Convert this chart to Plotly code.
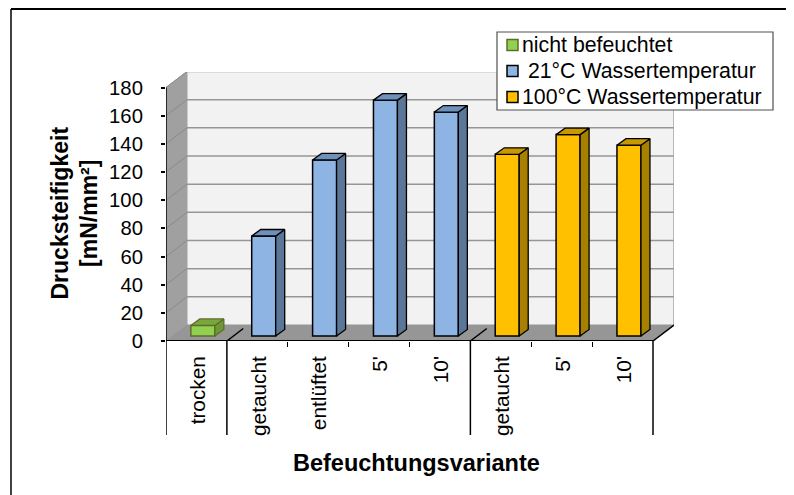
import plotly.graph_objects as go

categories = ["trocken", "getaucht", "entlüftet", "5'", "10'", "getaucht", "5'", "10'"]
values = [7.5, 71, 125, 167.5, 159, 129, 143, 135.5]
series_index = [0, 1, 1, 1, 1, 2, 2, 2]
series_names = ["nicht befeuchtet", "\u00a021°C Wassertemperatur", "100°C Wassertemperatur"]
x_title = "Befeuchtungsvariante"
y_title = "Drucksteifigkeit<br>[mN/mm²]"
front = ["#92D050", "#8DB4E2", "#FFC000"]
side = ["#6B9A33", "#5A7698", "#A88000"]
top = ["#78A83C", "#7090BC", "#C89800"]
edge = ["#5F6B2D", "#000000", "#000000"]
y_ticks = list(range(0, 181, 20))
group_edges = [0, 1, 5, 8]
minor_edges = [2, 3, 4, 6, 7]

OFF = 8                # the page body's default margin
W, H = 794 - OFF, 495 - OFF
PX, PR, PT, PB = 166, 674, 72, 341   # plot box in window pixels
cat_w = (653 - 166) / 8
u = (341 - 87.5) / 180
xr = (PR - PX) / cat_w
yr = (PB - PT) / u
wall_dx, wall_dy = 21 / cat_w, 16 / u
bar_dx, bar_dy = 9 / cat_w, 6.5 / u
shift, base = 6.4 / cat_w, 5 / u
bar_w = 24 / cat_w
label_shift = 1.5 / cat_w
AX = "#000000"

def px(v):
    return (v - PX) / (PR - PX)

def py(v):
    return (PB - v) / (PB - PT)

def poly(xs, ys, color, line=None, lw=1):
    path = "M" + "L".join(f"{a},{b}" for a, b in zip(xs, ys)) + "Z"
    return dict(type="path", path=path, xref="x", yref="y", layer="below", fillcolor=color,
                line=dict(color=line or color, width=lw))

def seg(x0, y0, x1, y1, color, w=1.5, layer="below"):
    return dict(type="line", xref="x", yref="y", x0=x0, y0=y0, x1=x1, y1=y1, layer=layer,
                line=dict(color=color, width=w))

shapes = [
    poly([wall_dx, xr, xr, wall_dx], [wall_dy, wall_dy, 180 + wall_dy, 180 + wall_dy], "#F2F2F2"),
    poly([0, wall_dx, wall_dx, 0], [0, wall_dy, 180 + wall_dy, 180], "#A0A0A0"),
    poly([0, 8, xr, wall_dx], [0, 0, wall_dy, wall_dy], "#969696"),
]
for t in y_ticks[1:]:
    shapes.append(seg(wall_dx, t + wall_dy, xr, t + wall_dy, "#969696"))
    shapes.append(seg(0, t, wall_dx, t + wall_dy, "#8A8A8A", 1))
shapes.append(seg(xr, wall_dy, xr, 180 + wall_dy, "#A6A6A6"))
shapes.append(seg(0, 0, 0, 180, AX, 1.5, "above"))
shapes.append(seg(0, 0, 8, 0, AX, 2, "above"))
for e in [1, 5, 8]:
    f = 0.78 if e < 8 else 1
    shapes.append(seg(e, 0, e + wall_dx * f, wall_dy * f, AX, 1.5, "above"))
for e in group_edges:
    shapes.append(dict(type="line", xref="x", yref="paper", x0=e, x1=e, y0=py(435), y1=py(341),
                       line=dict(color=AX, width=1.5)))

fig = go.Figure()
for s in range(3):
    idx = [i for i, k in enumerate(series_index) if k == s]
    fig.add_bar(x=[i + 0.5 + shift for i in idx], y=[values[i] for i in idx], base=[base] * len(idx),
                width=bar_w, marker=dict(color=front[s], line=dict(color=edge[s], width=1.5)),
                name=series_names[s], showlegend=False, hoverinfo="y")
    for i in idx:
        xl = i + 0.5 + shift - bar_w / 2
        xh = xl + bar_w
        yh = values[i] + base
        fig.add_scatter(x=[xh, xh + bar_dx, xh + bar_dx, xh, xh], y=[base, base + bar_dy, yh + bar_dy, yh, base],
                        fill="toself", fillcolor=side[s], mode="lines", line=dict(color=edge[s], width=1.3),
                        showlegend=False, hoverinfo="skip")
        fig.add_scatter(x=[xl, xl + bar_dx, xh + bar_dx, xh, xl], y=[yh, yh + bar_dy, yh + bar_dy, yh, yh],
                        fill="toself", fillcolor=top[s], mode="lines", line=dict(color=edge[s], width=1.3),
                        showlegend=False, hoverinfo="skip")

# legend
shapes.append(dict(type="rect", xref="paper", yref="paper", x0=px(497), x1=px(773), y0=py(110), y1=py(32),
                   fillcolor="white", line=dict(color="#505050", width=1.2), layer="above"))
annotations = []
for k, (name, yc) in enumerate(zip(series_names, [45, 71, 97])):
    shapes.append(dict(type="rect", xref="paper", yref="paper", x0=px(507), x1=px(518),
                       y0=py(yc + 5.5), y1=py(yc - 5.5), fillcolor=front[k],
                       line=dict(color=edge[k], width=1.5), layer="above"))
    annotations.append(dict(xref="paper", yref="paper", x=px(520), y=py(yc), text=name, showarrow=False,
                            xanchor="left", yanchor="middle", font=dict(size=21.3, color="black")))

# axis titles
annotations.append(dict(xref="paper", yref="paper", x=px(416.5), y=py(463), text=f"<b>{x_title}</b>",
                        showarrow=False, xanchor="center", yanchor="middle", font=dict(size=23.5)))
annotations.append(dict(xref="paper", yref="paper", x=px(74), y=py(213.5), text=f"<b>{y_title}</b>",
                        showarrow=False, xanchor="center", yanchor="middle", textangle=-90, font=dict(size=23)))

# chart frame: only the top and left edges are inside the window
shapes.append(dict(type="line", xref="paper", yref="paper", x0=px(11), x1=px(800), y0=py(9), y1=py(9),
                   line=dict(color="black", width=2)))
shapes.append(dict(type="line", xref="paper", yref="paper", x0=px(11), x1=px(11), y0=py(9), y1=py(500),
                   line=dict(color="black", width=1.5)))

fig.update_layout(
    width=W, height=H, autosize=False, showlegend=False,
    margin=dict(l=PX - OFF, r=794 - PR, t=PT - OFF, b=495 - PB, pad=0),
    paper_bgcolor="white", plot_bgcolor="white",
    font=dict(family="Liberation Sans, Arial, sans-serif", color="black", size=20),
    barmode="overlay", shapes=shapes, annotations=annotations,
    xaxis=dict(range=[0, xr], tickvals=[i + 0.5 + label_shift for i in range(8)], ticktext=categories, tickangle=-90,
               ticks="", showgrid=False, zeroline=False, showline=False, ticklabelstandoff=10,
               tickfont=dict(size=20.8), automargin=False,
               minor=dict(tickvals=minor_edges, ticks="outside", ticklen=5, tickcolor=AX, tickwidth=1.2, showgrid=False)),
    yaxis=dict(range=[0, yr], tickvals=y_ticks, ticks="outside", ticklen=4, tickcolor=AX, tickwidth=1.5,
               showgrid=False, zeroline=False, showline=False, tickfont=dict(size=20.3), automargin=False,
               ticklabelstandoff=14),
)
fig.write_html("out.html")
